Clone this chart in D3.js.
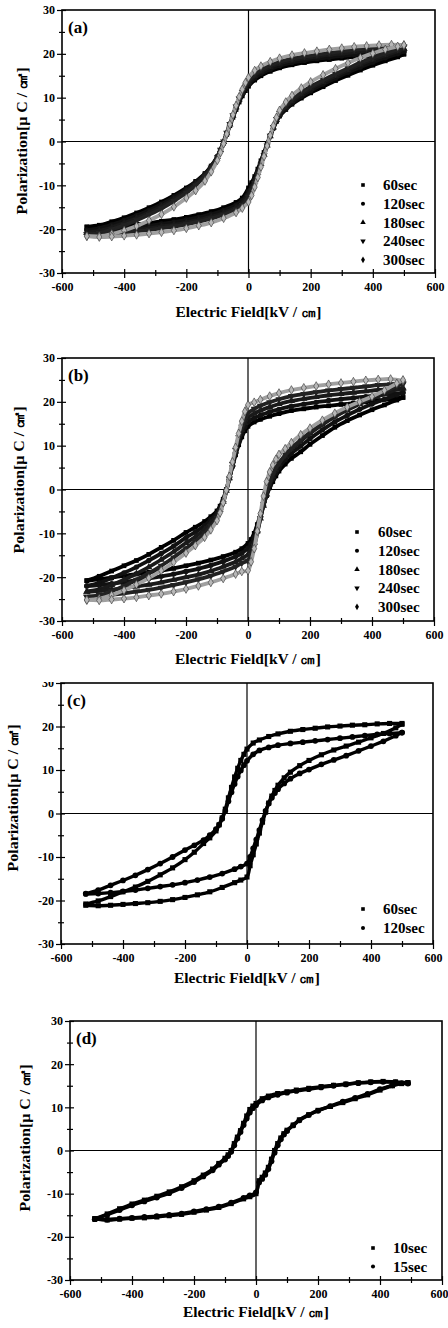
<!DOCTYPE html>
<html><head><meta charset="utf-8">
<script src="https://cdn.jsdelivr.net/npm/d3@7"></script>
<style>
body{margin:0;background:#fff}
svg{display:block}
text{font-family:"Liberation Serif","Times New Roman",serif;font-weight:bold;fill:#000}
</style>
</head><body>
<svg id="chart" width="448" height="1328"></svg>
<script>
// ---------- axes / labels ----------
const xTicks = [-600, -400, -200, 0, 200, 400, 600];
const xMinor = [-500, -300, -100, 100, 300, 500];
const yTicks = [-30, -20, -10, 0, 10, 20, 30];
const yMinor = [-25, -15, -5, 5, 15, 25];
const xTitle = "Electric Field[kV / ㎝]";
const yTitle = "Polarization[μ C / ㎠]";

// ---------- shared field grids (kV/cm) ----------
const upE = [500, 460, 420, 380, 340, 300, 260, 220, 180, 140, 100, 70, 40, 20, 0, -10, -20, -30, -40, -50, -60, -70, -80, -90, -100, -120, -140, -170, -200, -240, -280, -320, -360, -400, -440, -480, -520];
const loE = [-520, -480, -440, -400, -360, -320, -280, -240, -200, -160, -120, -80, -40, -20, 0, 10, 20, 30, 40, 50, 60, 70, 80, 90, 100, 120, 140, 170, 200, 240, 280, 320, 360, 400, 440, 480, 500];
const upEd = [490, 450, 410, 370, 330, 290, 250, 210, 170, 130, 100, 70, 40, 20, 0, -10, -20, -30, -40, -50, -60, -70, -80, -90, -100, -120, -140, -170, -200, -240, -280, -320, -360, -400, -440, -480, -520];
const loEd = [-520, -480, -440, -400, -360, -320, -280, -240, -200, -160, -120, -80, -40, -20, 0, 10, 20, 30, 40, 50, 60, 70, 80, 90, 100, 120, 140, 170, 200, 240, 280, 320, 360, 400, 440, 470, 490];

// ---------- panel (a) ----------
const a60Up = [20.0, 19.9, 19.7, 19.5, 19.3, 19.0, 18.7, 18.4, 18.0, 17.5, 16.8, 16.0, 15.0, 14.0, 12.6, 11.6, 10.4, 9.0, 7.3, 5.5, 3.6, 1.6, -0.4, -2.1, -3.5, -5.6, -7.3, -9.1, -10.6, -12.3, -13.8, -15.1, -16.3, -17.4, -18.3, -19.1, -19.5];
const a60Lo = [-19.5, -19.7, -19.5, -19.2, -18.9, -18.6, -18.2, -17.8, -17.3, -16.7, -16.0, -15.1, -13.9, -12.9, -10.6, -9.4, -8.0, -6.3, -4.4, -2.5, -0.6, 1.4, 3.1, 4.6, 5.8, 7.3, 8.5, 9.9, 11.1, 12.5, 13.9, 15.1, 16.3, 17.4, 18.4, 19.3, 19.9];
const a120Up = [20.6, 20.5, 20.3, 20.1, 19.8, 19.5, 19.2, 18.9, 18.5, 18.0, 17.3, 16.5, 15.5, 14.5, 13.0, 12.0, 10.8, 9.3, 7.6, 5.8, 3.8, 1.8, -0.2, -1.9, -3.4, -5.6, -7.4, -9.3, -10.9, -12.7, -14.3, -15.7, -16.9, -18.0, -19.0, -19.8, -20.2];
const a120Lo = [-20.2, -20.3, -20.1, -19.8, -19.5, -19.2, -18.8, -18.4, -17.9, -17.3, -16.6, -15.7, -14.5, -13.5, -11.4, -10.2, -8.7, -6.9, -4.9, -2.9, -0.9, 1.2, 3.0, 4.6, 5.9, 7.5, 8.8, 10.3, 11.6, 13.1, 14.5, 15.8, 17.0, 18.1, 19.1, 20.0, 20.6];
const a180Up = [21.2, 21.1, 20.9, 20.7, 20.4, 20.1, 19.8, 19.4, 19.0, 18.5, 17.8, 17.0, 16.0, 15.0, 13.5, 12.4, 11.1, 9.6, 7.8, 5.9, 3.9, 1.9, -0.1, -1.9, -3.5, -5.8, -7.7, -9.7, -11.3, -13.2, -14.8, -16.2, -17.5, -18.6, -19.6, -20.4, -20.8];
const a180Lo = [-20.8, -20.9, -20.7, -20.4, -20.1, -19.8, -19.4, -19.0, -18.5, -17.9, -17.2, -16.3, -15.1, -14.1, -12.0, -10.7, -9.1, -7.2, -5.1, -3.0, -0.9, 1.2, 3.2, 4.9, 6.2, 7.9, 9.2, 10.8, 12.1, 13.6, 15.0, 16.3, 17.6, 18.7, 19.7, 20.6, 21.2];
const a240Up = [21.6, 21.6, 21.4, 21.2, 20.9, 20.6, 20.2, 19.8, 19.4, 18.9, 18.2, 17.4, 16.4, 15.4, 13.9, 12.7, 11.3, 9.8, 8.0, 6.0, 4.0, 2.0, 0.0, -1.9, -3.6, -6.0, -8.0, -10.0, -11.7, -13.6, -15.3, -16.7, -18.0, -19.1, -20.1, -20.9, -21.2];
const a240Lo = [-21.2, -21.3, -21.1, -20.8, -20.5, -20.2, -19.8, -19.4, -18.9, -18.3, -17.6, -16.7, -15.5, -14.5, -12.6, -11.2, -9.5, -7.5, -5.3, -3.1, -0.9, 1.3, 3.3, 5.1, 6.5, 8.2, 9.6, 11.2, 12.5, 14.0, 15.4, 16.7, 18.0, 19.1, 20.1, 21.0, 21.6];
const a300Up = [22.0, 22.1, 22.0, 21.8, 21.6, 21.3, 21.0, 20.6, 20.2, 19.7, 19.0, 18.2, 17.2, 16.2, 14.6, 13.4, 11.9, 10.2, 8.2, 6.1, 3.9, 1.7, -0.5, -2.5, -4.3, -6.9, -9.0, -11.2, -12.9, -14.9, -16.6, -18.0, -19.3, -20.3, -21.1, -21.6, -21.6];
const a300Lo = [-21.6, -21.8, -21.7, -21.5, -21.3, -21.0, -20.7, -20.3, -19.8, -19.2, -18.5, -17.5, -16.2, -15.2, -13.8, -12.3, -10.4, -8.2, -5.8, -3.4, -1.0, 1.4, 3.6, 5.5, 7.1, 9.0, 10.5, 12.2, 13.6, 15.2, 16.6, 17.9, 19.1, 20.1, 21.0, 21.7, 22.0];

// ---------- panel (b) ----------
const b60Up = [21.0, 20.6, 20.3, 20.0, 19.7, 19.4, 19.1, 18.8, 18.4, 18.0, 17.3, 16.7, 16.0, 15.4, 14.4, 13.4, 12.0, 10.2, 7.9, 5.3, 2.6, 0.0, -2.2, -3.8, -4.9, -6.2, -7.3, -8.6, -9.8, -11.6, -13.2, -14.8, -16.2, -17.4, -18.6, -19.8, -20.8];
const b60Lo = [-20.8, -20.5, -20.1, -19.7, -19.3, -18.9, -18.5, -18.0, -17.4, -16.8, -16.1, -15.3, -14.3, -13.5, -12.3, -11.4, -10.0, -8.0, -5.8, -3.5, -1.4, 0.4, 1.8, 3.1, 4.2, 5.8, 7.1, 8.6, 10.3, 12.3, 14.2, 15.7, 17.0, 18.2, 19.3, 20.4, 21.0];
const b120Up = [22.0, 21.8, 21.5, 21.2, 20.9, 20.6, 20.3, 19.9, 19.5, 19.0, 18.3, 17.7, 16.9, 16.3, 15.4, 14.3, 12.8, 10.8, 8.3, 5.5, 2.6, -0.1, -2.5, -4.2, -5.4, -6.9, -8.2, -9.7, -11.0, -12.9, -14.6, -16.2, -17.7, -19.0, -20.2, -21.3, -22.0];
const b120Lo = [-22.0, -21.8, -21.5, -21.1, -20.7, -20.3, -19.8, -19.3, -18.7, -18.1, -17.3, -16.4, -15.3, -14.5, -13.4, -12.4, -10.9, -8.7, -6.2, -3.6, -1.3, 0.8, 2.4, 3.8, 5.0, 6.8, 8.2, 9.9, 11.6, 13.6, 15.4, 16.9, 18.3, 19.5, 20.6, 21.6, 22.2];
const b180Up = [23.0, 22.9, 22.7, 22.4, 22.1, 21.8, 21.5, 21.1, 20.7, 20.2, 19.5, 18.8, 18.0, 17.3, 16.4, 15.2, 13.6, 11.4, 8.7, 5.7, 2.6, -0.3, -2.8, -4.6, -5.9, -7.6, -9.1, -10.8, -12.2, -14.2, -16.0, -17.7, -19.2, -20.6, -21.8, -22.8, -23.3];
const b180Lo = [-23.3, -23.1, -22.8, -22.5, -22.1, -21.7, -21.2, -20.6, -20.0, -19.4, -18.6, -17.6, -16.5, -15.7, -14.8, -13.7, -12.0, -9.5, -6.6, -3.7, -1.1, 1.2, 3.0, 4.5, 5.8, 7.7, 9.2, 11.0, 12.8, 14.8, 16.6, 18.1, 19.5, 20.7, 21.8, 22.8, 23.2];
const b240Up = [24.0, 24.0, 23.8, 23.5, 23.2, 22.9, 22.6, 22.2, 21.8, 21.3, 20.6, 19.9, 19.1, 18.4, 17.4, 16.1, 14.3, 11.9, 9.0, 5.8, 2.5, -0.5, -3.1, -5.0, -6.5, -8.4, -10.0, -11.8, -13.4, -15.5, -17.4, -19.1, -20.6, -22.0, -23.2, -24.1, -24.5];
const b240Lo = [-24.5, -24.3, -24.0, -23.7, -23.3, -22.9, -22.4, -21.8, -21.2, -20.5, -19.7, -18.7, -17.6, -16.8, -16.2, -14.9, -12.9, -10.0, -6.6, -3.3, -0.6, 1.6, 3.5, 5.0, 6.0, 7.9, 9.4, 11.3, 13.0, 15.0, 16.8, 18.3, 19.7, 21.0, 22.3, 23.6, 24.2];
const b300Up = [24.8, 25.2, 25.1, 24.9, 24.6, 24.3, 24.0, 23.6, 23.2, 22.7, 22.0, 21.3, 20.5, 19.9, 19.3, 17.8, 15.6, 12.8, 9.6, 6.3, 3.0, -0.2, -3.0, -5.3, -7.1, -9.2, -10.9, -12.8, -14.5, -16.6, -18.5, -20.2, -21.7, -23.0, -24.1, -24.9, -25.2];
const b300Lo = [-25.2, -25.3, -25.1, -24.9, -24.6, -24.2, -23.8, -23.3, -22.7, -22.0, -21.2, -20.3, -19.3, -18.7, -18.5, -16.5, -13.5, -9.5, -5.5, -1.5, 1.8, 4.0, 5.6, 6.9, 8.0, 9.3, 10.7, 12.5, 14.0, 15.8, 17.4, 18.8, 20.0, 21.2, 22.6, 24.2, 25.0];

// ---------- panel (c) ----------
const c60Up = [20.7, 20.7, 20.6, 20.4, 20.3, 20.1, 19.9, 19.6, 19.3, 18.9, 18.3, 17.7, 16.9, 16.2, 14.8, 13.6, 12.2, 10.4, 8.4, 6.0, 3.6, 1.0, -1.0, -2.6, -4.0, -5.6, -6.9, -8.9, -10.6, -12.5, -14.1, -15.6, -16.9, -18.0, -19.1, -20.1, -20.8];
const c60Lo = [-21.1, -21.2, -21.1, -20.9, -20.7, -20.5, -20.2, -19.8, -19.3, -18.7, -18.0, -17.0, -15.9, -15.3, -14.6, -12.0, -9.5, -7.0, -4.5, -2.0, 0.3, 2.4, 4.0, 5.3, 6.5, 8.2, 9.5, 11.0, 12.2, 13.5, 14.6, 15.5, 16.4, 17.4, 18.4, 19.7, 20.5];
const c120Up = [18.6, 18.4, 18.2, 17.9, 17.6, 17.3, 17.0, 16.7, 16.4, 16.1, 15.7, 15.2, 14.5, 13.6, 12.1, 11.1, 9.9, 8.5, 6.8, 4.9, 2.8, 0.6, -1.2, -2.6, -3.6, -5.0, -6.1, -7.3, -8.4, -10.0, -11.5, -12.9, -14.2, -15.4, -16.5, -17.6, -18.4];
const c120Lo = [-18.5, -18.4, -18.2, -17.9, -17.6, -17.2, -16.8, -16.4, -15.9, -15.3, -14.6, -13.8, -12.8, -12.2, -11.5, -10.0, -8.0, -6.0, -3.8, -1.5, 0.6, 2.3, 3.6, 4.7, 5.6, 6.9, 8.0, 9.2, 10.1, 11.3, 12.3, 13.3, 14.4, 15.5, 16.6, 17.9, 18.6];

// ---------- panel (d) ----------
const d10Up = [15.7, 15.9, 16.0, 15.9, 15.7, 15.4, 15.1, 14.8, 14.4, 14.0, 13.6, 13.2, 12.6, 12.0, 10.9, 10.3, 9.5, 8.0, 6.3, 4.6, 3.1, 1.6, 0.0, -1.0, -1.8, -3.0, -4.3, -5.7, -7.0, -8.4, -9.6, -10.6, -11.5, -12.4, -13.5, -14.7, -15.8];
const d10Lo = [-15.8, -16.1, -15.9, -15.7, -15.6, -15.4, -15.1, -14.8, -14.3, -13.8, -13.2, -12.3, -11.2, -10.7, -10.0, -7.0, -6.2, -5.2, -3.9, -2.0, 0.0, 1.6, 2.9, 3.9, 4.7, 5.9, 7.1, 8.3, 9.3, 10.2, 11.1, 12.0, 12.9, 14.0, 15.0, 15.5, 15.7];
const d15Up = [15.5, 15.8, 15.9, 15.8, 15.6, 15.3, 15.0, 14.6, 14.2, 13.8, 13.4, 12.9, 12.3, 11.6, 10.5, 9.8, 8.8, 7.4, 5.9, 4.3, 2.8, 1.2, -0.3, -1.3, -2.1, -3.3, -4.6, -6.0, -7.3, -8.7, -9.9, -10.9, -11.8, -12.7, -13.8, -14.9, -15.9];
const d15Lo = [-15.9, -16.0, -15.8, -15.6, -15.4, -15.2, -14.9, -14.6, -14.1, -13.6, -13.0, -12.1, -11.0, -10.4, -9.7, -7.4, -6.6, -5.6, -4.3, -2.5, -0.5, 1.2, 2.6, 3.7, 4.5, 5.8, 7.0, 8.2, 9.2, 10.3, 11.3, 12.2, 13.1, 14.2, 15.1, 15.6, 15.6];

// ---------- series labels ----------
const labelsABC = ["60sec", "120sec", "180sec", "240sec", "300sec"];
const labelsD = ["10sec", "15sec"];

// ---------- marker styles ----------
const symTypes = [d3.symbolSquare, d3.symbolCircle, d3.symbolTriangle, d3.symbolTriangle, d3.symbolDiamond];
const symRot = [0, 0, 0, 180, 0];
const fills = ["#000", "#111", "#1a1a1a", "#222", "#b8b8b8"];
const lineCols = ["#000", "#111", "#1a1a1a", "#222", "#a0a0a0"];

// ---------- panel layout ----------
const panels = [
  {tag: "(a)", l: 62, r: 435, t: 10, b: 273, xtY: 312, ytX: 22, ytY: 141,
   leg: {sx: 363, tx: 383, y0: 185, dy: 18.7}, labels: labelsABC,
   ser: [[upE, a60Up, loE, a60Lo], [upE, a120Up, loE, a120Lo], [upE, a180Up, loE, a180Lo], [upE, a240Up, loE, a240Lo], [upE, a300Up, loE, a300Lo]]},
  {tag: "(b)", l: 62, r: 434, t: 358, b: 621, xtY: 659, ytX: 19, ytY: 480,
   leg: {sx: 357, tx: 378, y0: 532, dy: 18.7}, labels: labelsABC,
   ser: [[upE, b60Up, loE, b60Lo], [upE, b120Up, loE, b120Lo], [upE, b180Up, loE, b180Lo], [upE, b240Up, loE, b240Lo], [upE, b300Up, loE, b300Lo]]},
  {tag: "(c)", l: 61, r: 433, t: 683, b: 944, xtY: 978, ytX: 13, ytY: 798, clipTop: 682,
   leg: {sx: 363, tx: 383, y0: 909, dy: 19}, labels: labelsABC.slice(0, 2),
   ser: [[upE, c60Up, loE, c60Lo], [upE, c120Up, loE, c120Lo]]},
  {tag: "(d)", l: 70, r: 442, t: 1021, b: 1280, xtY: 1312, ytX: 25, ytY: 1138, lastRight: true,
   leg: {sx: 373, tx: 393, y0: 1248, dy: 18.5}, labels: labelsD,
   ser: [[upEd, d10Up, loEd, d10Lo], [upEd, d15Up, loEd, d15Lo]]}
];

const svg = d3.select("#chart");
// clip (in the y-axis group's local coords) that trims the top of panel (c)'s "30" label like the scan
svg.append("defs").append("clipPath").attr("id", "clipC")
  .append("rect").attr("x", -100).attr("y", 682).attr("width", 200).attr("height", 300);

function styleAxis(g) {
  g.select(".domain").remove();
  g.selectAll(".tick line").attr("stroke", "#000").attr("stroke-width", 1.2);
  g.selectAll(".tick text").attr("font-family", "'Liberation Serif', serif")
    .attr("font-weight", "bold").attr("font-size", 12).attr("fill", "#000");
}

panels.forEach((p, pi) => {
  const x = d3.scaleLinear().domain([-600, 600]).range([p.l, p.r]);
  const y = d3.scaleLinear().domain([-30, 30]).range([p.b, p.t]);
  const g = svg.append("g");

  // axes with ticks crossing the frame
  const gx = g.append("g").attr("transform", `translate(0,${p.b})`)
    .call(d3.axisBottom(x).tickValues(xTicks).tickSize(5).tickPadding(4).tickFormat(d => String(d)));
  styleAxis(gx);
  gx.selectAll(".tick line").attr("y1", -4);
  if (p.lastRight) {
    gx.selectAll(".tick text").filter(d => d === 600).attr("text-anchor", "end").attr("dx", 6);
  }
  const gxm = g.append("g").attr("transform", `translate(0,${p.b})`)
    .call(d3.axisBottom(x).tickValues(xMinor).tickSize(3).tickFormat(""));
  styleAxis(gxm);
  gxm.selectAll(".tick line").attr("y1", -3);

  const gy = g.append("g").attr("transform", `translate(${p.l},0)`)
    .call(d3.axisLeft(y).tickValues(yTicks).tickSize(5).tickPadding(2).tickFormat(d => String(d)));
  styleAxis(gy);
  gy.selectAll(".tick line").attr("x1", 4);
  if (p.clipTop) gy.attr("clip-path", "url(#clipC)");
  const gym = g.append("g").attr("transform", `translate(${p.l},0)`)
    .call(d3.axisLeft(y).tickValues(yMinor).tickSize(3).tickFormat(""));
  styleAxis(gym);
  gym.selectAll(".tick line").attr("x1", 3);

  // frame
  g.append("rect").attr("x", p.l).attr("y", p.t).attr("width", p.r - p.l).attr("height", p.b - p.t)
    .attr("fill", "none").attr("stroke", "#000").attr("stroke-width", 1.6);
  // zero lines
  g.append("line").attr("x1", x(0)).attr("x2", x(0)).attr("y1", p.t).attr("y2", p.b)
    .attr("stroke", "#000").attr("stroke-width", 1.2);
  g.append("line").attr("x1", p.l).attr("x2", p.r).attr("y1", y(0)).attr("y2", y(0))
    .attr("stroke", "#000").attr("stroke-width", 1.2);

  // data
  const lineGen = d3.line().x(d => x(d[0])).y(d => y(d[1])).curve(d3.curveCatmullRom);
  const big = pi < 2;
  p.ser.forEach((s, si) => {
    const col = pi < 2 ? lineCols[si] : "#000";
    const fil = pi < 2 ? fills[si] : "#000";
    const sym = d3.symbol().type(symTypes[si]).size(big ? 22 : 26);
    [[s[0], s[1]], [s[2], s[3]]].forEach(([E, P]) => {
      const pts = E.map((e, i) => [e, P[i]]).filter(d => d[1] !== undefined);
      g.append("path").datum(pts).attr("d", lineGen).attr("fill", "none")
        .attr("stroke", col).attr("stroke-width", big ? 3.8 : 3.4).attr("stroke-linejoin", "round");
      g.append("g").selectAll("path").data(pts).join("path")
        .attr("transform", d => `translate(${x(d[0])},${y(d[1])}) rotate(${symRot[si]})`)
        .attr("d", sym).attr("fill", fil)
        .attr("stroke", si === 4 ? "#333" : "none").attr("stroke-width", 0.6);
    });
  });

  // legend
  p.labels.forEach((lab, i) => {
    const ly = p.leg.y0 + i * p.leg.dy;
    g.append("path").attr("transform", `translate(${p.leg.sx},${ly}) rotate(${symRot[i]})`)
      .attr("d", d3.symbol().type(symTypes[i]).size(13)).attr("fill", "#000");
    g.append("text").attr("x", p.leg.tx).attr("y", ly).attr("dy", "0.35em")
      .attr("font-size", 15).text(lab);
  });

  // panel tag
  g.append("text").attr("x", p.l + 6).attr("y", p.t + 23).attr("font-size", 17).text(p.tag);

  // axis titles
  g.append("text").attr("x", (p.l + p.r) / 2).attr("y", p.xtY).attr("dy", "0.35em")
    .attr("text-anchor", "middle").attr("font-size", 14)
    .attr("textLength", 146).attr("lengthAdjust", "spacingAndGlyphs").text(xTitle);
  g.append("text").attr("transform", `translate(${p.ytX},${p.ytY}) rotate(-90)`)
    .attr("dy", "0.35em").attr("text-anchor", "middle").attr("font-size", 14)
    .attr("textLength", 147).attr("lengthAdjust", "spacingAndGlyphs").text(yTitle);
});
</script>
</body></html>
